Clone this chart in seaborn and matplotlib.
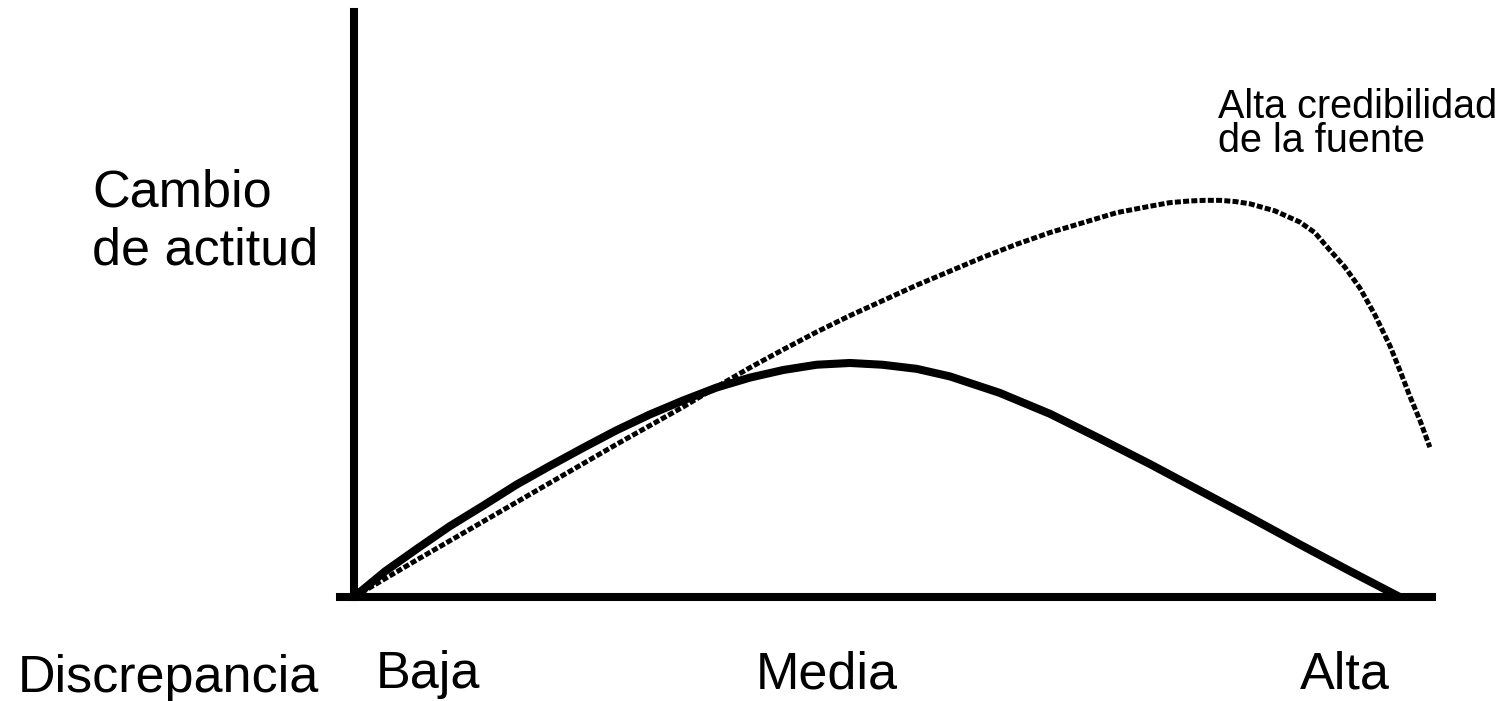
import pandas as pd
import matplotlib
matplotlib.use('Agg')
import matplotlib.pyplot as plt
import seaborn as sns

# 数据：横轴为差异程度(0-100)，纵轴为态度改变(0-100)
baja_x = [0, 2.9, 5.9, 8.9, 12.0, 15.1, 18.2, 21.3, 24.4, 27.5, 30.6, 33.7, 36.8, 39.9, 43.0, 46.1,
          49.1, 52.3, 55.4, 60.0, 64.7, 69.3, 74.0, 78.6, 83.3, 87.9, 92.6, 97.2]
baja_y = [0, 4.4, 8.3, 12.1, 15.6, 19.2, 22.4, 25.5, 28.5, 31.2, 33.6, 35.8, 37.5, 38.8, 39.7, 40.0,
          39.7, 39.0, 37.7, 34.9, 31.3, 27.1, 22.7, 18.2, 13.6, 9.0, 4.4, 0]

alta_x = [0, 5.9, 12.0, 18.2, 24.4, 30.6, 33.7, 36.8, 39.9, 43.0, 46.1, 49.2, 52.3, 55.4, 58.5, 61.6,
          64.7, 67.8, 70.9, 74.0, 75.8, 77.7, 79.1, 80.5, 81.9, 83.3, 85.6, 87.9, 89.3, 90.7, 92.1,
          93.5, 94.9, 96.3, 97.2, 98.1, 99.1, 100.0]
alta_y = [0, 6.4, 12.9, 19.5, 26.1, 32.5, 35.9, 39.2, 42.3, 45.3, 48.1, 50.7, 53.3, 55.7, 58.1, 60.3,
          62.3, 64.0, 65.7, 66.8, 67.4, 67.7, 67.8, 67.8, 67.6, 67.2, 66.0, 64.1, 62.3, 59.3, 56.4,
          52.8, 48.2, 42.9, 38.8, 34.5, 30.1, 25.6]

niveles = ['Baja', 'Media', 'Alta']
niveles_pos = [6.9, 43.9, 92.1]

df_baja = pd.DataFrame({'x': baja_x, 'y': baja_y})
df_alta = pd.DataFrame({'x': alta_x, 'y': alta_y})

sns.set_style('white')
plt.rcParams['font.family'] = ['Liberation Sans', 'DejaVu Sans']
plt.rcParams['text.color'] = 'black'
plt.rcParams['xtick.color'] = 'black'

fig = plt.figure(figsize=(15.08, 7.01), dpi=100)
ax = fig.add_axes([0.2255, 0.1484, 0.7241, 0.8345])

sns.lineplot(data=df_baja, x='x', y='y', ax=ax, color='black', lw=5.8,
             sort=False, estimator=None, solid_capstyle='butt', solid_joinstyle='round')
sns.lineplot(data=df_alta, x='x', y='y', ax=ax, color='black', lw=3.6,
             sort=False, estimator=None, linestyle=(0, (1.2, 0.45)), dash_capstyle='butt')

ax.set_xlim(-1.3, 100.2)
ax.set_ylim(0, 100)
for s in ['top', 'right']:
    ax.spines[s].set_visible(False)
ax.spines['left'].set_position(('data', 0))
for s in ['left', 'bottom']:
    ax.spines[s].set_linewidth(5.8)
    ax.spines[s].set_color('black')

ax.set_yticks([])
ax.set_xticks(niveles_pos)
ax.set_xticklabels(niveles, fontsize=37.5, color='black')
ax.tick_params(axis='x', length=0, pad=38.5)
ax.set_xlabel('')
ax.set_ylabel('')

fig.text(0.061, 0.622, 'Cambio\nde actitud', fontsize=37.5, ha='left', va='baseline', linespacing=1.24)
fig.text(0.012, 0.0128, 'Discrepancia', fontsize=37.5, ha='left', va='baseline')
fig.text(0.8077, 0.783, 'Alta credibilidad\nde la fuente', fontsize=28.5, ha='left', va='baseline', linespacing=0.88)

fig.savefig('out.png', dpi=100)
